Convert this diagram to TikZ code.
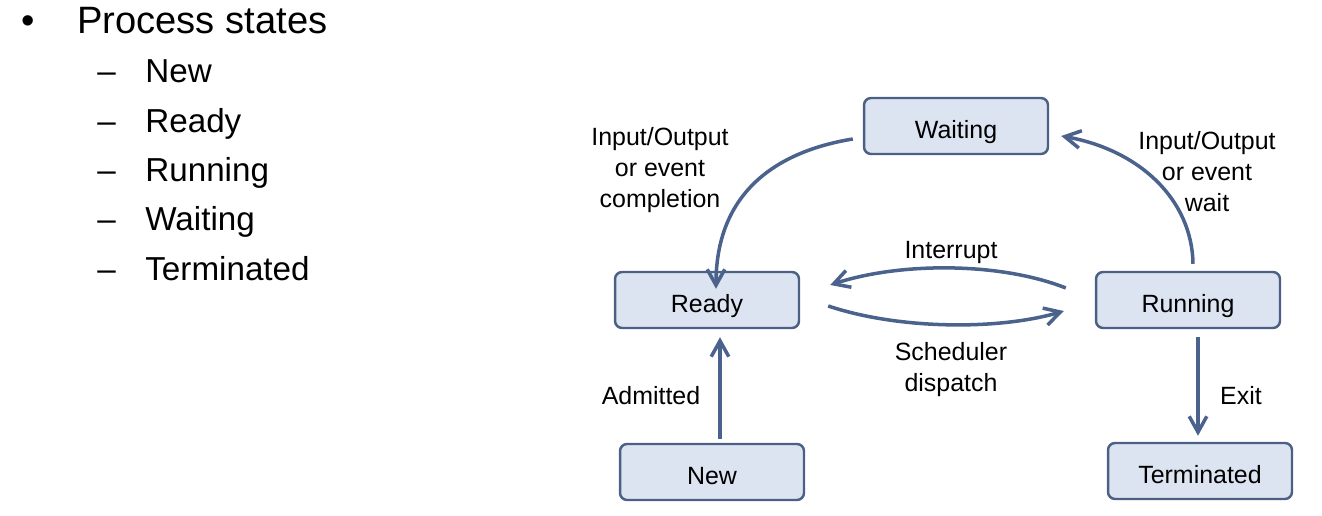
\documentclass[tikz,border=0pt]{standalone}
\usepackage{fontspec}
\setmainfont{Liberation Sans}
\usetikzlibrary{arrows.meta}
\definecolor{boxfill}{RGB}{221,228,241}
\definecolor{boxline}{RGB}{76,96,132}
\definecolor{arrowc}{RGB}{74,98,140}
\tikzset{
  state/.style={draw=boxline,fill=boxfill,line width=1.4pt,rounded corners=4pt,
    minimum width=3.68cm,minimum height=1.12cm,text height=1.45em,text depth=0.05em,
    font=\fontsize{14.2}{17}\selectfont},
  trans/.style={->,draw=arrowc,line width=2pt},
  lbl/.style={align=center,font=\fontsize{14.2}{17.6}\selectfont},
  item/.style={anchor=base west,inner sep=0pt,font=\fontsize{18.9}{22}\selectfont}
}
\begin{document}
\begin{tikzpicture}[x=0.02cm,y=0.02cm,>={Straight Barb[length=9pt,width=10pt]}]
  \useasboundingbox (0,0) rectangle (1322,516);
  % list
  \node[item,font=\fontsize{21.7}{24}\selectfont] (bul) at (21,482) {\textbullet};
  \node[item,font=\fontsize{21.7}{24}\selectfont] (title) at (77,482) {Process states};
  \foreach \name/\yy [count=\i] in {New/433,Ready/383,Running/334,Waiting/285,Terminated/235}{
    \node[item] (dash\i) at (97,\yy) {--};
    \node[item] (it\i) at (145,\yy) {\name};
  }
  % states
  \node[state] (waiting) at (956,390) {Waiting};
  \node[state] (ready) at (707,216) {Ready};
  \node[state] (running) at (1188,216) {Running};
  \node[state] (new) at (712,44) {New};
  \node[state] (term) at (1200,45) {Terminated};
  % transitions
  \draw[trans] ([shift={(-10,-13)}]waiting.west) .. controls (785,366) and (716,330) ..
    ([shift={(9,-18)}]ready.north);
  \draw[trans] ([shift={(5,7)}]running.north) .. controls (1192,316) and (1140,366) ..
    ([shift={(12,-10)}]waiting.east);
  \draw[trans] ([shift={(-29,12)}]running.west) .. controls (1000,254) and (900,254) ..
    ([shift={(30,15)}]ready.east);
  \draw[trans] ([shift={(28,-6)}]ready.east) .. controls (900,186) and (1000,186) ..
    ([shift={(-31,-11)}]running.west);
  \draw[trans] ([shift={(8,4)}]new.north) -- ([shift={(13,-8)}]ready.south);
  \draw[trans] ([shift={(10,-8)}]running.south) -- ([shift={(-2,6)}]term.north);
  % labels
  \node[lbl] (lio) at (660,346) {Input/Output\\or event\\completion};
  \node[lbl] (rio) at (1207,344) {Input/Output\\or event\\wait};
  \node[lbl] (intr) at (951,263) {Interrupt};
  \node[lbl] (disp) at (951,146) {Scheduler\\dispatch};
  \node[lbl] (adm) at (651,120) {Admitted};
  \node[lbl] (exit) at (1241,120) {Exit};
\end{tikzpicture}
\end{document}
